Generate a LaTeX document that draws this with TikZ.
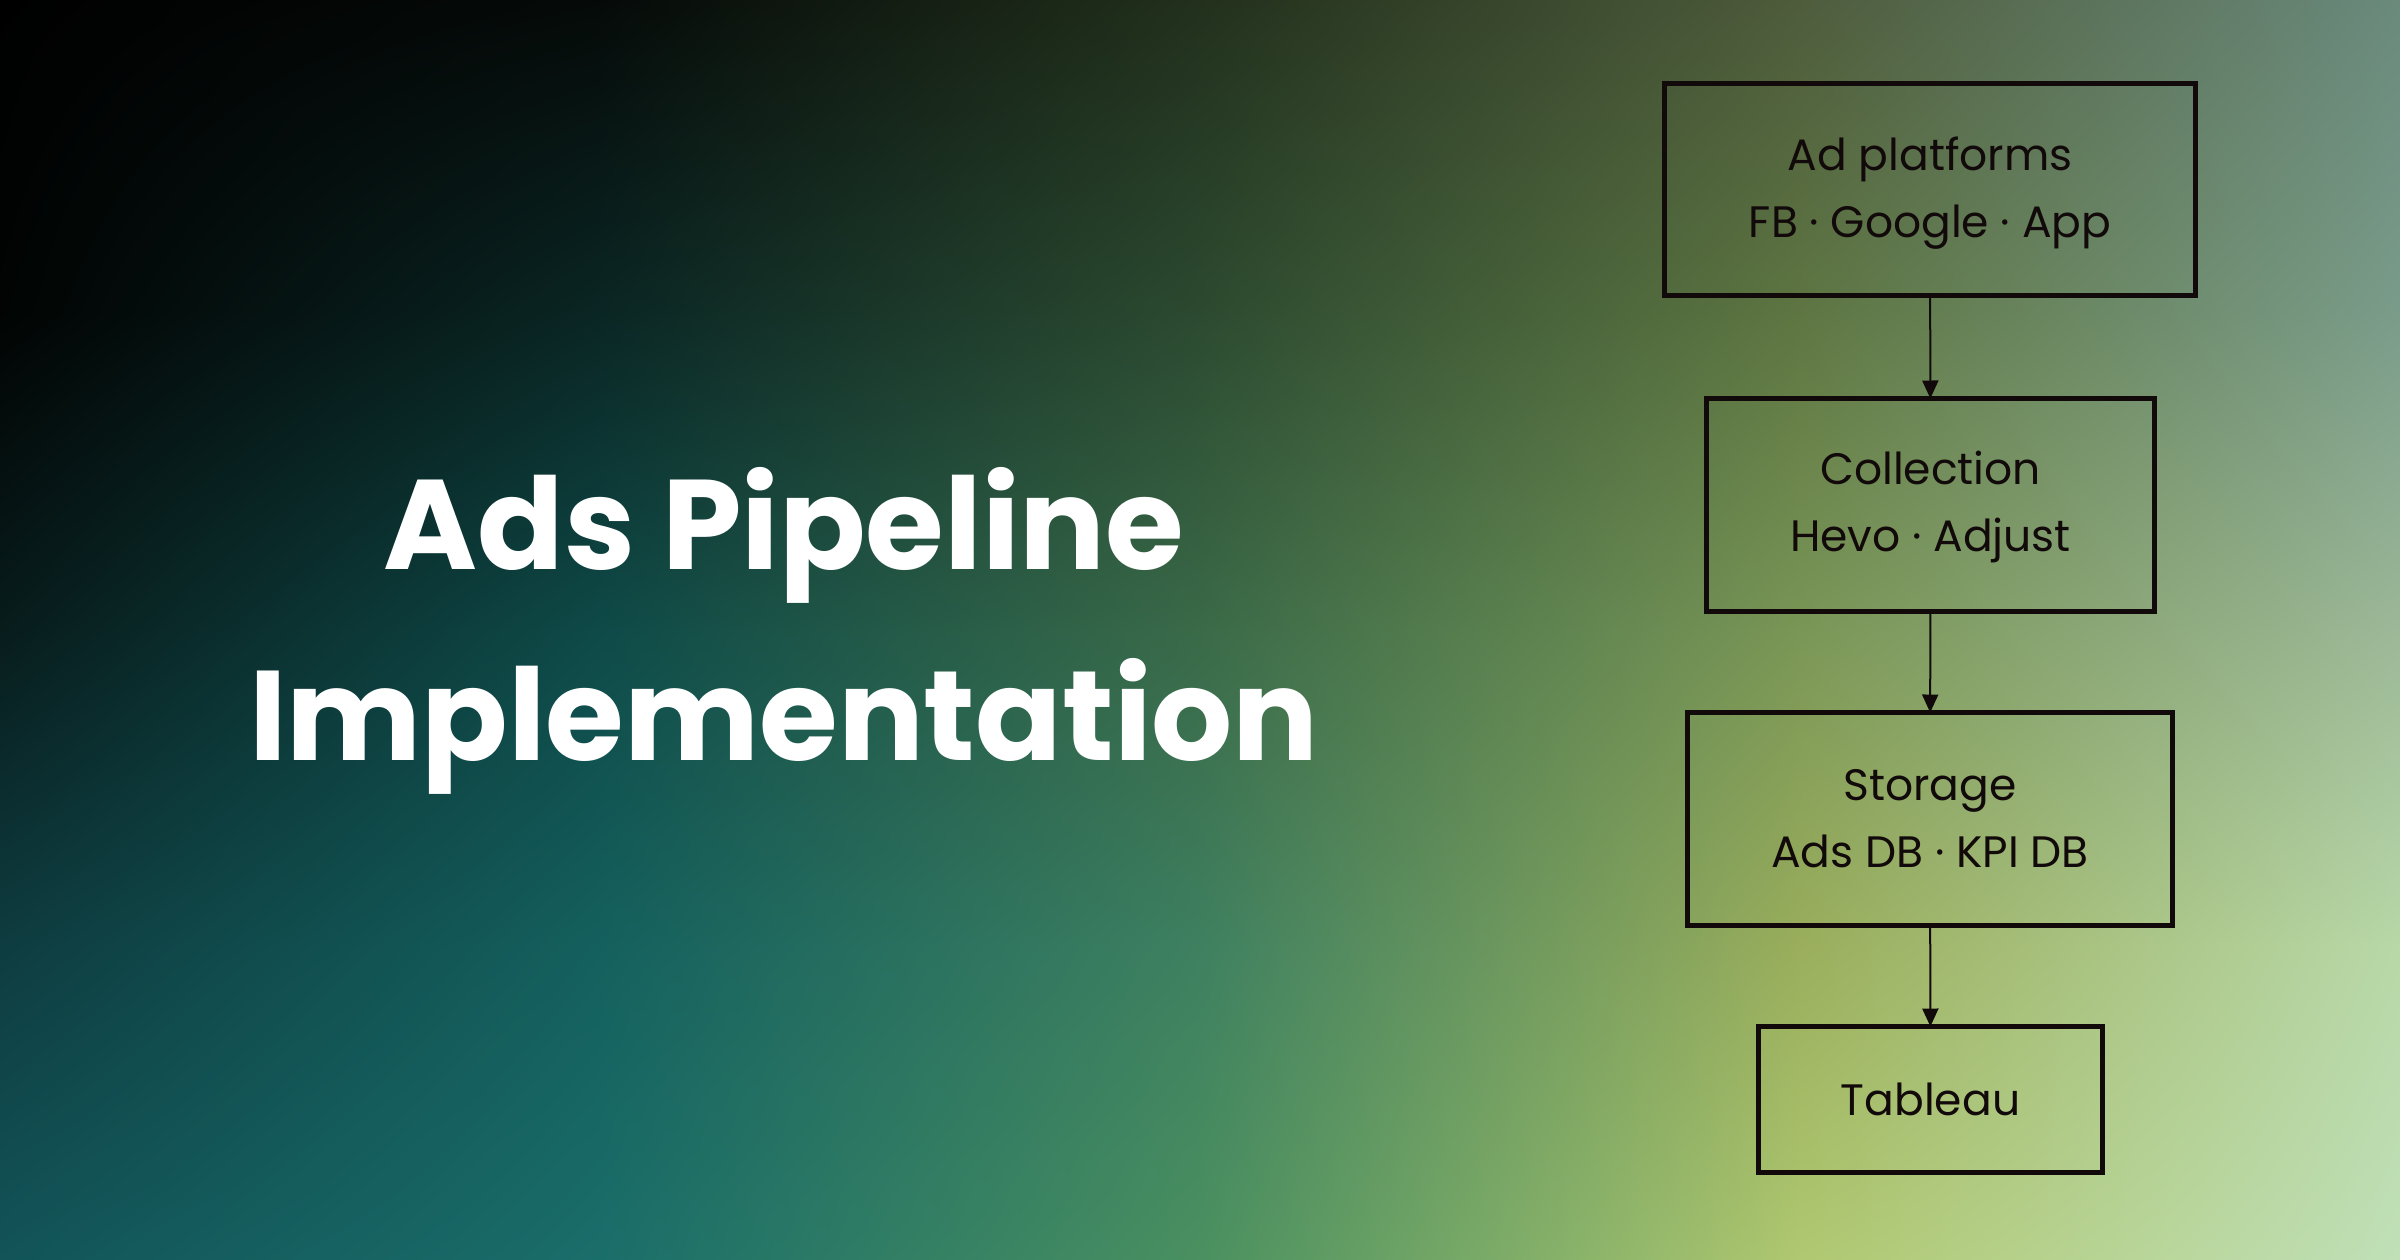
\documentclass[tikz,border=0pt]{standalone}
\usepackage{fontspec}
\setmainfont{Poppins}
\usetikzlibrary{shadings,arrows.meta}
\definecolor{g00}{HTML}{000000}\definecolor{g01}{HTML}{050A08}\definecolor{g02}{HTML}{22301C}\definecolor{g03}{HTML}{4E5C3C}\definecolor{g04}{HTML}{6A8A7C}
\definecolor{g10}{HTML}{010403}\definecolor{g11}{HTML}{0A2624}\definecolor{g12}{HTML}{2C4A30}\definecolor{g13}{HTML}{5E7642}\definecolor{g14}{HTML}{7A9C8A}
\definecolor{g20}{HTML}{081C1C}\definecolor{g21}{HTML}{0E4A48}\definecolor{g22}{HTML}{3A6A48}\definecolor{g23}{HTML}{7A9656}\definecolor{g24}{HTML}{9CB898}
\definecolor{g30}{HTML}{0E3C40}\definecolor{g31}{HTML}{14605E}\definecolor{g32}{HTML}{3E8060}\definecolor{g33}{HTML}{9AAE5C}\definecolor{g34}{HTML}{B8D8A8}
\definecolor{g40}{HTML}{125458}\definecolor{g41}{HTML}{1A6E6A}\definecolor{g42}{HTML}{4A9060}\definecolor{g43}{HTML}{B0C870}\definecolor{g44}{HTML}{C0E0B8}
\definecolor{ink}{HTML}{120A0A}
\tikzset{
  stage/.style={draw=ink, line width=4.5pt, inner sep=0pt, outer sep=0pt, align=center, text=ink, font=\fontsize{44}{67}\selectfont},
  flow/.style={draw=ink, line width=2pt, -{Triangle[length=18pt,width=16pt]}},
  headline/.style={text=white, align=center, inner sep=0pt, font=\fontsize{127.5}{191}\selectfont\bfseries}
}
\begin{document}
\begin{tikzpicture}[x=1pt,y=-1pt]
\useasboundingbox (0,0) rectangle (2400,1260);
\foreach \r in {0,...,3}{\foreach \c in {0,...,3}{
  \pgfmathtruncatemacro\rr{\r+1}\pgfmathtruncatemacro\cc{\c+1}
  \shade[upper left=g\r\c, upper right=g\r\cc, lower left=g\rr\c, lower right=g\rr\cc]
    ({600*\c-1},{315*\r-1}) rectangle ({600*\c+601},{315*\r+316});
}}
\node[headline] (title) at (784,631) {Ads Pipeline\\Implementation};
\node[stage, minimum width=531pt, minimum height=212pt] (plat) at (1930,189.5) {\rule{0pt}{40pt}Ad platforms\\FB · Google · App};
\node[stage, minimum width=448pt, minimum height=213pt] (coll) at (1930.5,505) {\rule{0pt}{38pt}Collection\\Hevo · Adjust};
\node[stage, minimum width=485pt, minimum height=213pt] (stor) at (1930,819) {Storage\\Ads DB · KPI DB};
\node[stage, minimum width=344pt, minimum height=146pt] (tab) at (1930.5,1099.5) {Tableau};
\draw[flow] (plat) -- (coll);
\draw[flow] (coll) -- (stor);
\draw[flow] (stor) -- (tab);
\end{tikzpicture}
\end{document}
